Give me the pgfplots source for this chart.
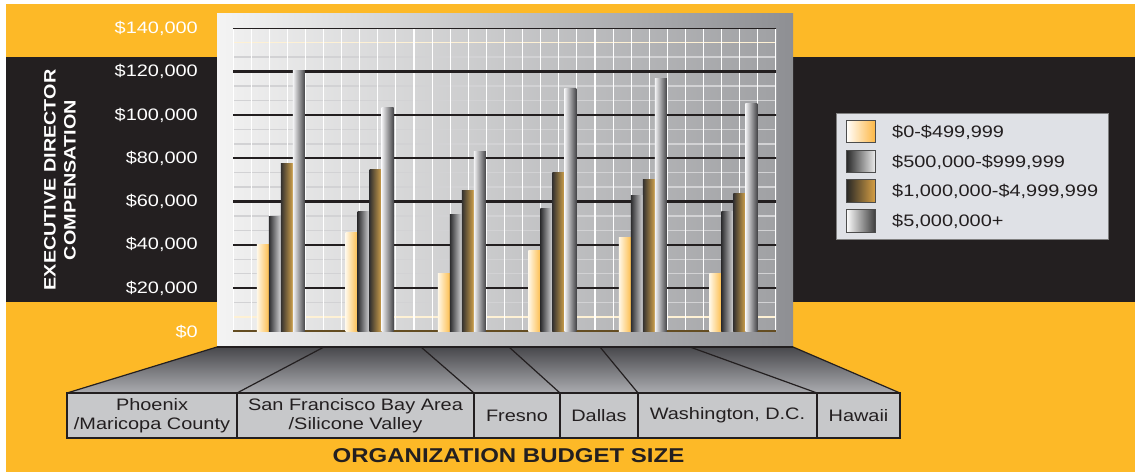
\documentclass[border=0pt]{standalone}
\usepackage{pgfplots}
\pgfplotsset{compat=1.18}
\usepackage{fontspec}
\setmainfont{Liberation Sans}[FakeStretch=1.2]
\definecolor{bgyellow}{HTML}{FDB927}
\definecolor{band}{HTML}{231F20}
\definecolor{frameL}{HTML}{F4F4F4}
\definecolor{frameR}{HTML}{8E8F93}
\definecolor{plotL}{HTML}{EFEFEF}
\definecolor{plotR}{HTML}{A0A1A4}
\definecolor{trapT}{HTML}{48484C}
\definecolor{trapB}{HTML}{ABACB0}
\definecolor{boxfill}{HTML}{C7C8CA}
\definecolor{gridminor}{HTML}{D2D2D4}
\definecolor{legfill}{HTML}{DFE1E6}
\definecolor{ylL}{HTML}{FFF7E6}
\definecolor{ylR}{HTML}{FDBE4E}
\definecolor{dkL}{HTML}{2F2F31}
\definecolor{dkR}{HTML}{D6D6D8}
\definecolor{gdL}{HTML}{353230}
\definecolor{gdR}{HTML}{D0A24C}
\definecolor{svL}{HTML}{F2F2F4}
\definecolor{svR}{HTML}{444447}
\newcommand\lbl{\fontsize{16.6bp}{19bp}\selectfont}
\newcommand\gbar[4]{\addplot[ybar, bar width=12bp, bar shift=#1, draw=none, #2] coordinates {(#3,#4)};}
\begin{document}
\begin{tikzpicture}
\begin{scope}[x=1bp,y=-1bp]
\useasboundingbox (0,0) rectangle (1135,472);
\fill[white] (0,0) rectangle (1135,472);
\fill[bgyellow] (6,4) rectangle (1135,472);
\fill[band] (6,57) rectangle (1135,302.5);
\shade[left color=frameL, right color=frameR] (217,14) rectangle (793,347);
\shade[top color=trapT, bottom color=trapB] (217,347) -- (793,347) -- (900,393) -- (67,393) -- cycle;
\draw[band, line width=1.2bp] (217,347) -- (67,393);
\draw[band, line width=1.2bp] (793,347) -- (900,393);
\draw[band, line width=1.2bp] (217,347) -- (793,347);
\draw[band, line width=1.2bp] (324,347) -- (237,393);
\draw[band, line width=1.2bp] (421,347) -- (474,393);
\draw[band, line width=1.2bp] (509,347) -- (560,393);
\draw[band, line width=1.2bp] (600,347) -- (638,393);
\draw[band, line width=1.2bp] (690,347) -- (817,393);
\fill[boxfill] (67,393) rectangle (900,438);
\draw[band, line width=1.6bp] (67,393) rectangle (900,438);
\foreach \xx in {237,474,560,638,817} {\draw[band, line width=1.6bp] (\xx,393) -- (\xx,438);}
\end{scope}
\begin{axis}[
  at={(233bp,-331.5bp)}, anchor=south west,
  scale only axis, width=543bp, height=303.2bp,
  xmin=-0.53, xmax=5.47, ymin=0, ymax=140000,
  xtick=\empty,
  ytick={0,20000,40000,60000,80000,100000,120000,140000},
  yticklabels={{\$0},{\$20,000},{\$40,000},{\$60,000},{\$80,000},{\$100,000},{\$120,000},{\$140,000}},
  scaled y ticks=false,
  major tick length=0pt,
  axis line style={draw=none},
  yticklabel style={white, font=\lbl, inner sep=0pt, anchor=east, xshift=-35bp},
  axis background/.style={left color=plotL, right color=plotR},
]
% minor horizontal grid
\pgfplotsinvokeforeach{6666.67,13333.33,26666.67,33333.33,46666.67,53333.33,66666.67,73333.33,86666.67,93333.33,106666.67,113333.33,126666.67}{\draw[gridminor, line width=1.5bp] (axis cs:-0.53,#1) -- (axis cs:5.47,#1);}
\draw[white!80!bgyellow, line width=1.5bp] (axis cs:-0.53,133333.33) -- (axis cs:5.47,133333.33);
\draw[white!80!bgyellow, line width=1.5bp] (axis cs:-0.53,6666.67) -- (axis cs:5.47,6666.67);
% vertical grid
\pgfplotsinvokeforeach{-0.53,-0.33,-0.13,0.07,0.27,0.47,0.67,0.87,1.07,1.27,1.47,1.67,1.87,2.07,2.27,2.47,2.67,2.87,3.07,3.27,3.47,3.67,3.87,4.07,4.27,4.47,4.67,4.87,5.07,5.27,5.47}{\draw[white, line width=1.1bp] (axis cs:#1,0) -- (axis cs:#1,140000);}
% major horizontal grid
\pgfplotsinvokeforeach{20000,40000,60000,80000,100000,120000,140000}{\draw[band, line width=2.4bp] (axis cs:-0.53,#1) -- (axis cs:5.5,#1);}
\draw[band!70!bgyellow, line width=2.2bp] (axis cs:-0.53,0) -- (axis cs:5.47,0);
% Phoenix
\gbar{-18bp}{left color=ylL, right color=ylR}{0}{40000}
\gbar{-6bp}{left color=dkL, right color=dkR}{0}{53300}
\gbar{6bp}{left color=gdL, right color=gdR}{0}{77800}
\gbar{18bp}{left color=svL, right color=svR}{0}{120300}
% San Francisco
\gbar{-18bp}{left color=ylL, right color=ylR}{0.98}{45900}
\gbar{-6bp}{left color=dkL, right color=dkR}{0.98}{55600}
\gbar{6bp}{left color=gdL, right color=gdR}{0.98}{75000}
\gbar{18bp}{left color=svL, right color=svR}{0.98}{103200}
% Fresno
\gbar{-18bp}{left color=ylL, right color=ylR}{2}{27000}
\gbar{-6bp}{left color=dkL, right color=dkR}{2}{54200}
\gbar{6bp}{left color=gdL, right color=gdR}{2}{65300}
\gbar{18bp}{left color=svL, right color=svR}{2}{82900}
% Dallas
\gbar{-18bp}{left color=ylL, right color=ylR}{3}{37200}
\gbar{-6bp}{left color=dkL, right color=dkR}{3}{57000}
\gbar{6bp}{left color=gdL, right color=gdR}{3}{73600}
\gbar{18bp}{left color=svL, right color=svR}{3}{112000}
% Washington
\gbar{-18bp}{left color=ylL, right color=ylR}{4}{43200}
\gbar{-6bp}{left color=dkL, right color=dkR}{4}{62600}
\gbar{6bp}{left color=gdL, right color=gdR}{4}{70400}
\gbar{18bp}{left color=svL, right color=svR}{4}{116600}
% Hawaii
\gbar{-18bp}{left color=ylL, right color=ylR}{5}{27000}
\gbar{-6bp}{left color=dkL, right color=dkR}{5}{55400}
\gbar{6bp}{left color=gdL, right color=gdR}{5}{63900}
\gbar{18bp}{left color=svL, right color=svR}{5}{105500}
\end{axis}
\begin{scope}[x=1bp,y=-1bp]
% legend
\fill[legfill] (836,113) rectangle (1108,239.5);
\draw[gray, line width=0.8bp] (836,113) rectangle (1108,239.5);
\shade[left color=white, right color=ylR!90!orange] (846,121) rectangle (875,143);
\draw[black!70, line width=1bp] (846,121) rectangle (875,143);
\shade[left color=black!85, right color=black!8] (846,151) rectangle (875,173);
\draw[black!70, line width=1bp] (846,151) rectangle (875,173);
\shade[left color=black!85, right color=gdR!90!orange] (846,180) rectangle (875,203);
\draw[black!70, line width=1bp] (846,180) rectangle (875,203);
\shade[left color=white, right color=black!75] (846,209.5) rectangle (875,232.5);
\draw[black!70, line width=1bp] (846,209.5) rectangle (875,232.5);
\node[anchor=west, inner sep=0pt, text=band, font=\lbl] at (892,132) {\$0-\$499,999};
\node[anchor=west, inner sep=0pt, text=band, font=\lbl] at (892,162) {\$500,000-\$999,999};
\node[anchor=west, inner sep=0pt, text=band, font=\lbl] at (892,191.5) {\$1,000,000-\$4,999,999};
\node[anchor=west, inner sep=0pt, text=band, font=\lbl] at (892,221) {\$5,000,000+};
% category labels
\node[align=center, text=band, font=\lbl, inner sep=0pt] at (152,416) {Phoenix\\/Maricopa County};
\node[align=center, text=band, font=\lbl, inner sep=0pt] at (355.5,416) {San Francisco Bay Area\\/Silicone Valley};
\node[text=band, font=\lbl, inner sep=0pt] at (517,415.5) {Fresno};
\node[text=band, font=\lbl, inner sep=0pt] at (599,415.5) {Dallas};
\node[text=band, font=\lbl, inner sep=0pt] at (727.5,415.5) {Washington, D.C.};
\node[text=band, font=\lbl, inner sep=0pt] at (858.5,415.5) {Hawaii};
% titles
\node[text=band, font=\fontsize{20bp}{24bp}\selectfont\bfseries, inner sep=0pt] at (508.5,456) {ORGANIZATION BUDGET SIZE};
\node[rotate=90, align=center, text=white, font=\fontsize{16.5bp}{20bp}\selectfont\bfseries, inner sep=0pt] at (60,180) {EXECUTIVE DIRECTOR\\COMPENSATION};
\end{scope}
\end{tikzpicture}
\end{document}
